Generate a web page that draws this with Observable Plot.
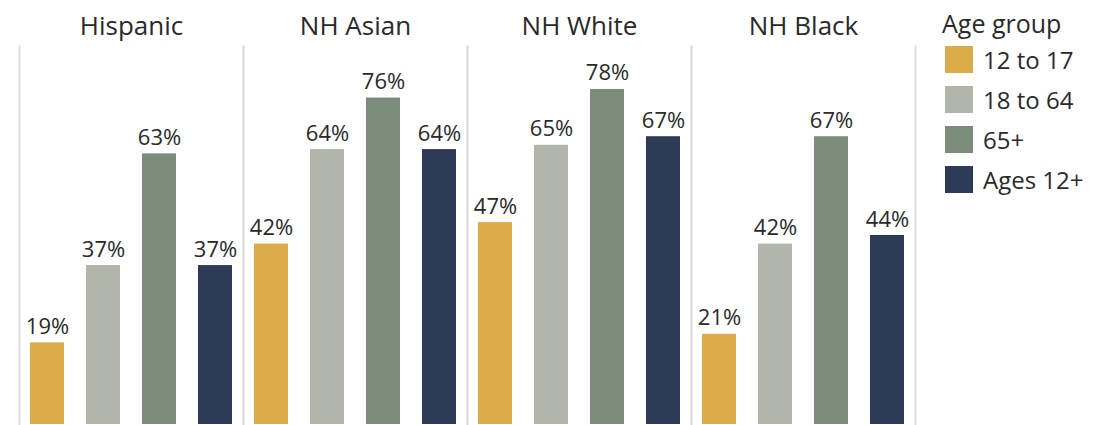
<!DOCTYPE html>
<html>
<head>
<meta charset="utf-8">
<script src="https://cdn.jsdelivr.net/npm/d3@7"></script>
<script src="https://cdn.jsdelivr.net/npm/@observablehq/plot@0.6"></script>
<style>
  html, body { margin: 0; padding: 0; background: #fff; }
  #wrap { position: relative; width: 1097px; height: 425px; font-family: "Open Sans", sans-serif; }
  #chart { position: absolute; left: 0; top: 0; }
  #legend { position: absolute; left: 942px; top: 6px; color: #2a2a2a; }
  #legend .title { font-size: 25px; line-height: 34px; height: 33px; }
  #legend .item { display: flex; align-items: center; height: 40px; font-size: 24px; }
  #legend .sw { width: 28px; height: 27px; margin-left: 3px; margin-right: 10px; }
</style>
</head>
<body>
<div id="wrap"><div id="chart"></div><div id="legend"></div></div>
<script>
const groups = ["Hispanic", "NH Asian", "NH White", "NH Black"];
const ageGroups = ["12 to 17", "18 to 64", "65+", "Ages 12+"];
const colors = ["#dcab4a", "#b1b6ab", "#7b8c7b", "#2e3b57"];
const hispanic = [19, 37, 63, 37];
const nhAsian = [42, 64, 76, 64];
const nhWhite = [47, 65, 78, 67];
const nhBlack = [21, 42, 67, 44];
const seriesByGroup = [hispanic, nhAsian, nhWhite, nhBlack];

const data = [];
groups.forEach((g, i) => ageGroups.forEach((a, j) => data.push({group: g, age: a, value: seriesByGroup[i][j]})));

const chart = Plot.plot({
  width: 917,
  height: 425,
  marginLeft: 19,
  marginRight: 2,
  marginTop: 46,
  marginBottom: 1,
  style: {fontFamily: "Open Sans, sans-serif", color: "#2a2a2a", background: "transparent"},
  fx: {domain: groups, padding: 0},
  x: {domain: ageGroups, paddingInner: 0.4, paddingOuter: 0.2, axis: null},
  y: {domain: [0, 88], axis: null},
  color: {domain: ageGroups, range: colors},
  marks: [
    Plot.frame({anchor: "left", stroke: "#dedede", strokeWidth: 2, strokeOpacity: 1}),
    Plot.frame({anchor: "right", stroke: "#dedede", strokeWidth: 2, strokeOpacity: 1}),
    Plot.barY(data, {fx: "group", x: "age", y: "value", fill: "age"}),
    Plot.text(data, {fx: "group", x: "age", y: "value", text: d => d.value + "%", lineAnchor: "bottom", dy: -9, fontSize: 22, fill: "#2a2a2a"}),
    Plot.axisFx({anchor: "top", tickSize: 0, tickPadding: 12, fontSize: 26, label: null, fill: "#2a2a2a"})
  ]
});
document.getElementById("chart").appendChild(chart);

const legend = document.getElementById("legend");
const t = document.createElement("div");
t.className = "title"; t.textContent = "Age group";
legend.appendChild(t);
ageGroups.forEach((a, i) => {
  const row = document.createElement("div");
  row.className = "item";
  const sw = document.createElement("div");
  sw.className = "sw"; sw.style.background = colors[i];
  const lab = document.createElement("span");
  lab.textContent = a;
  row.appendChild(sw); row.appendChild(lab);
  legend.appendChild(row);
});
</script>
</body>
</html>
